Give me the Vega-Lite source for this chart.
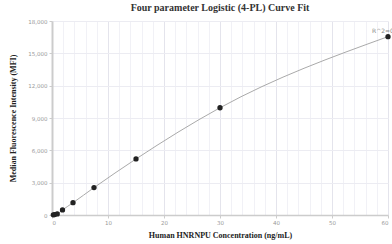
{
  "$schema": "https://vega.github.io/schema/vega-lite/v6.json",
  "width": 336,
  "height": 194,
  "autosize": "none",
  "padding": {"left": 52, "top": 21, "right": 4, "bottom": 29},
  "background": "white",
  "title": {
    "text": "Four parameter Logistic (4-PL) Curve Fit",
    "font": "Liberation Serif",
    "fontSize": 10,
    "fontWeight": "bold",
    "color": "#333",
    "anchor": "middle",
    "offset": 6
  },
  "config": {
    "view": {"stroke": null},
    "axis": {
      "labelFont": "DejaVu Sans",
      "labelFontSize": 5.5,
      "labelColor": "#999",
      "titleFont": "Liberation Serif",
      "titleFontSize": 8,
      "titleFontWeight": "bold",
      "titleColor": "#222",
      "domainColor": "#ccc",
      "tickColor": "#ccc",
      "tickSize": 3
    }
  },
  "data": {
    "values": [
      {"conc": 0.234, "mfi": 15},
      {"conc": 0.469, "mfi": 40},
      {"conc": 0.938, "mfi": 100},
      {"conc": 1.875, "mfi": 470},
      {"conc": 3.75, "mfi": 1140},
      {"conc": 7.5, "mfi": 2540},
      {"conc": 15, "mfi": 5200},
      {"conc": 30, "mfi": 9950},
      {"conc": 60, "mfi": 16550}
    ]
  },
  "encoding": {
    "x": {
      "field": "conc",
      "type": "quantitative",
      "scale": {"domain": [0, 60], "nice": false},
      "axis": {
        "title": "Human HNRNPU Concentration (ng/mL)",
        "values": [0, 2, 4, 6, 8, 10, 12, 14, 16, 18, 20, 22, 24, 26, 28, 30, 32, 34, 36, 38, 40, 42, 44, 46, 48, 50, 52, 54, 56, 58, 60],
        "labelExpr": "datum.value % 10 === 0 ? datum.label : ''",
        "gridColor": {"condition": {"test": "datum.value % 10 === 0", "value": "#e4e4ec"}, "value": "#f1f1f6"},
        "tickColor": {"condition": {"test": "datum.value % 10 === 0", "value": "#ccc"}, "value": "transparent"},
        "domainWidth": 1.5,
        "labelPadding": 2,
        "titlePadding": 6
      }
    },
    "y": {
      "field": "mfi",
      "type": "quantitative",
      "scale": {"domain": [0, 18000], "nice": false},
      "axis": {
        "title": "Median Fluorescence Intensity (MFI)",
        "values": [0, 3000, 6000, 9000, 12000, 15000, 18000],
        "gridColor": "#ececf2",
        "domainWidth": 2,
        "labelPadding": 2,
        "titlePadding": 10
      }
    }
  },
  "layer": [
    {
      "mark": {"type": "line", "interpolate": "monotone", "color": "#aaa", "strokeWidth": 1}
    },
    {
      "mark": {"type": "point", "filled": true, "color": "#222", "size": 28, "opacity": 1}
    },
    {
      "transform": [{"filter": "datum.conc === 60"}],
      "mark": {"type": "text", "align": "left", "baseline": "bottom", "dx": -16, "dy": -3, "fontSize": 6, "color": "#888", "font": "DejaVu Sans"},
      "encoding": {"text": {"value": "R^2=0.9999"}}
    }
  ]
}
